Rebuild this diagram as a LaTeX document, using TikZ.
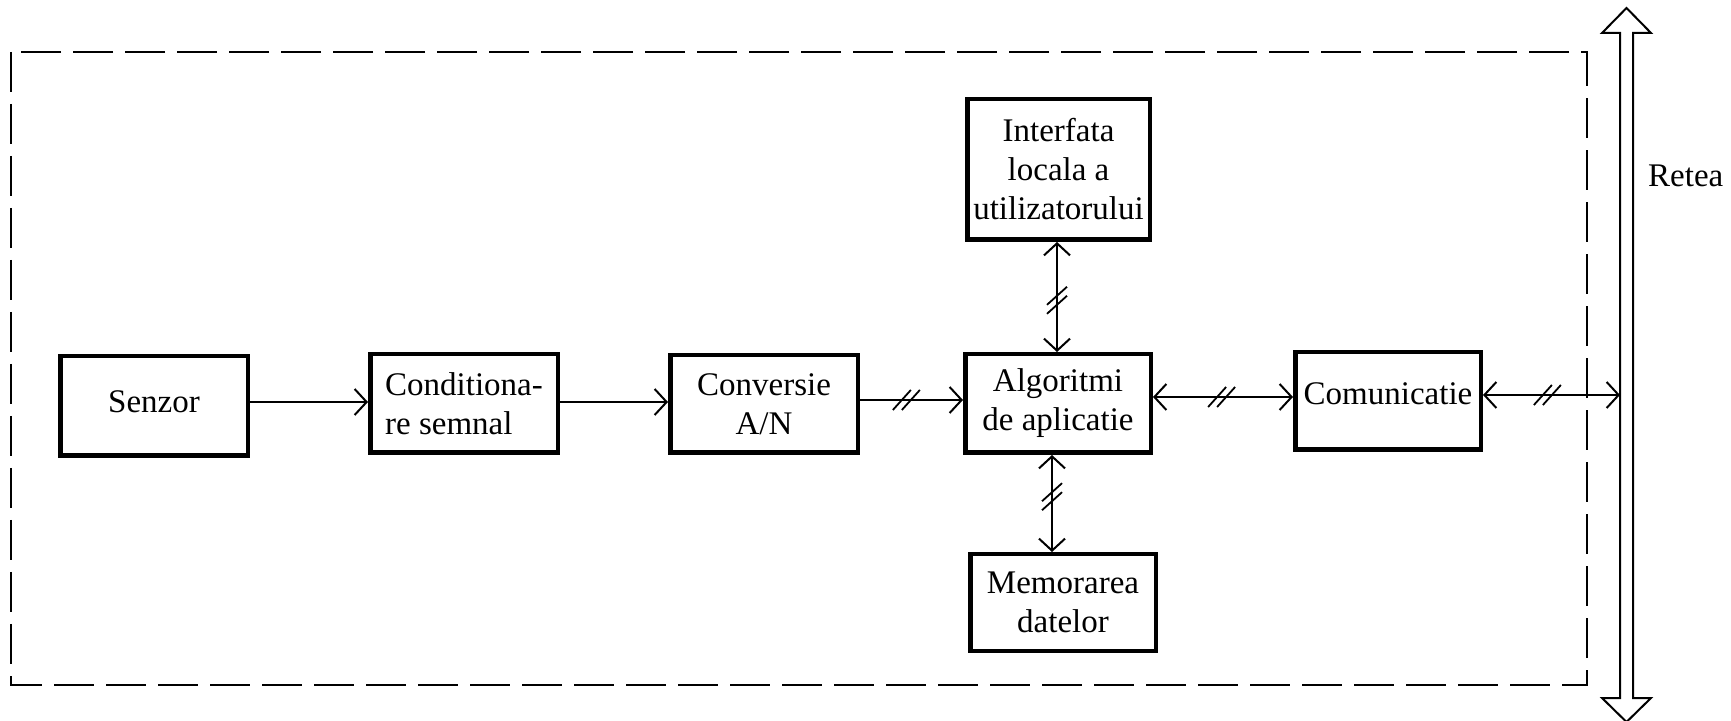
\documentclass[tikz,border=0pt]{standalone}
\usepackage{fontspec}
\setmainfont{Liberation Serif}
\usetikzlibrary{arrows.meta,decorations.markings}
\begin{document}
\begin{tikzpicture}[x=1pt,y=1pt,
  box/.style={draw, line width=4.5pt, inner sep=0pt, align=center,
    font=\fontsize{33}{39}\selectfont},
  conn/.style={line width=2pt},
  >={Straight Barb[length=12pt,width=26pt]},
  hsl/.style={postaction={decorate,decoration={markings,mark=at position #1 with {
      \draw[-, line width=1.8pt] (-13.5pt,-10pt)--(4.5pt,10pt) (-4.5pt,-10pt)--(13.5pt,10pt);}}}},
  vsl/.style={postaction={decorate,decoration={markings,mark=at position #1 with {
      \draw[-, line width=1.8pt] (-13.5pt,10pt)--(4.5pt,-10pt) (-4.5pt,10pt)--(13.5pt,-10pt);}}}},
  frame/.style={line width=2.5pt, dash pattern=on 40pt off 12pt},
  bus/.style={line width=2pt, fill=white},
  lbl/.style={font=\fontsize{33}{39}\selectfont, inner sep=0pt}
]
\useasboundingbox (0,0) rectangle (1731,720);

% dashed system boundary
\draw[frame] (11,668) rectangle (1587,35);

% boxes
\node[box, minimum width=187.5pt, minimum height=99.5pt] (sen) at (154,314) {\raisebox{4pt}[22pt][0pt]{Senzor}};
\node[box, minimum width=187.5pt, minimum height=98.5pt, align=left] (cond) at (464,316.5) {Conditiona-\\re semnal};
\node[box, minimum width=187.5pt, minimum height=97.5pt] (conv) at (764,316) {Conversie\\A/N};
\node[box, minimum width=185.5pt, minimum height=98.5pt] (alg) at (1058,316.5) {Algoritmi\\de aplicatie};
\node[box, minimum width=185.5pt, minimum height=97.5pt] (com) at (1388,319) {\raisebox{7pt}[22pt][0pt]{Comunicatie}};
\node[box, minimum width=182.5pt, minimum height=140.5pt] (intf) at (1058.5,550.5) {Interfata\\locala a\\utilizatorului};
\node[box, minimum width=185.5pt, minimum height=96.5pt] (mem) at (1063,117.5) {Memorarea\\datelor};

% network bus
\draw[bus] (1620,687) -- (1602,687) -- (1626.5,712) -- (1651,687) -- (1633,687)
  -- (1633,22) -- (1651,22) -- (1626.5,-2) -- (1602,22) -- (1620,22) -- cycle;
\coordinate (busL) at (1620,360);
\node[lbl, anchor=base west] (retea) at (1648,533) {Retea};

% connectors
\draw[conn,->] ([yshift=4pt]sen.east) -- ([yshift=4pt]sen.east -| cond.west);
\draw[conn,->] ([yshift=1.5pt]cond.east) -- ([yshift=1.5pt]cond.east -| conv.west);
\draw[conn,->,hsl=0.45] ([yshift=4pt]conv.east) -- ([yshift=4pt]conv.east -| alg.west);
\draw[conn,<->,hsl=0.49] ([yshift=6.5pt]alg.east) -- ([yshift=6.5pt]alg.east -| com.west);
\draw[conn,<->,hsl=0.47] ([yshift=6pt]com.east) -- ([yshift=6pt]com.east -| busL);
\draw[conn,<->,vsl=0.47] ([xshift=-1pt]alg.north) -- ([xshift=-1pt]alg.north |- intf.south);
\draw[conn,<->,vsl=0.57] ([xshift=-6pt]alg.south |- mem.north) -- ([xshift=-6pt]alg.south);
\end{tikzpicture}
\end{document}
